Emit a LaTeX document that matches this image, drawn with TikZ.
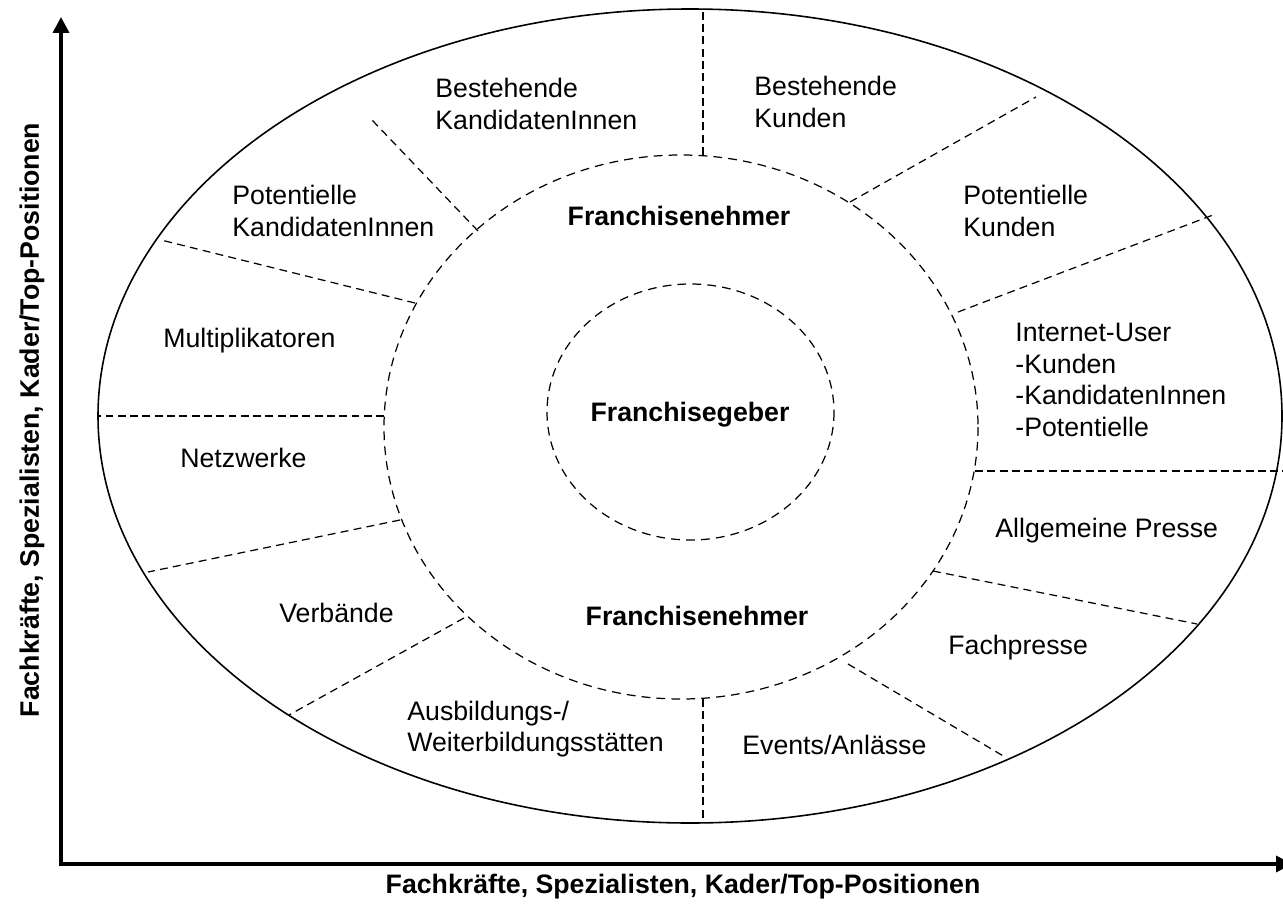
\documentclass[tikz,border=0pt]{standalone}
\usepackage{fontspec}
\setmainfont{Liberation Sans}
\usetikzlibrary{arrows.meta,positioning}

\begin{document}
\begin{tikzpicture}[
  x=0.02cm,
  y=-0.02cm,
  axis/.style={line width=2pt, {Triangle[length=9pt,width=9pt]}-{Triangle[length=9pt,width=9pt]}},
  rim/.style={line width=0.9pt},
  ring/.style={line width=0.7pt, dash pattern=on 5pt off 3.5pt},
  divider/.style={line width=0.7pt, dash pattern=on 4.5pt off 3pt},
  mainline/.style={line width=1.3pt, dash pattern=on 4.5pt off 2.5pt},
  group/.style={inner sep=0pt, anchor=west, align=left, font=\fontsize{15.2}{18}\selectfont},
  core/.style={inner sep=0pt, font=\fontsize{15.2}{18}\selectfont\bfseries},
  axislabel/.style={inner sep=0pt, font=\fontsize{15.2}{18}\selectfont\bfseries}
]
  \useasboundingbox (0,0) rectangle (1283,912);

  \coordinate (origin) at (61,864);
  \coordinate (ytip) at (61,17);
  \coordinate (xtip) at (1292,864);
  \draw[axis] (ytip) -- (origin) -- (xtip);

  \draw[rim] (690,416) ellipse [x radius=592, y radius=407];
  \draw[ring] (681,427) ellipse [x radius=297, y radius=272];
  \draw[ring] (690.5,412) ellipse [x radius=143.5, y radius=128];

  \draw[mainline] (703,155) -- (703,10);
  \draw[mainline] (384,416) -- (97,416);
  \draw[mainline] (703,699) -- (703,822);
  \draw[mainline] (975,471) -- (1283,471);

  \draw[divider] (478,231) -- (372,120);
  \draw[divider] (415,303) -- (161,240);
  \draw[divider] (400,520) -- (148,572);
  \draw[divider] (464,618) -- (289,715);
  \draw[divider] (848,664) -- (1005,757);
  \draw[divider] (933,571) -- (1197,624);
  \draw[divider] (958,312) -- (1213,215);
  \draw[divider] (850,202) -- (1036,97);

  \node[group] (oldcand) at (435,104) {Bestehende\\KandidatenInnen};
  \node[group] (oldcust) at (754,102) {Bestehende\\Kunden};
  \node[group] (newcand) at (232,211) {Potentielle\\KandidatenInnen};
  \node[group] (newcust) at (963,211) {Potentielle\\Kunden};
  \node[group] (multi) at (163,341) {Multiplikatoren};
  \node[group] (web) at (1015,380) {Internet-User\\-Kunden\\-KandidatenInnen\\-Potentielle};
  \node[group] (net) at (180,458) {Netzwerke};
  \node[group] (press) at (995,531) {Allgemeine Presse};
  \node[group] (assoc) at (279,613) {Verbände};
  \node[group] (trade) at (948,648) {Fachpresse};
  \node[group] (school) at (407,729) {Ausbildungs-/\\Weiterbildungsstätten};
  \node[group] (events) at (742,745) {Events/Anlässe};

  \node[core] (takerup) at (679,216) {Franchisenehmer};
  \node[core] (giver) at (690,415) {Franchisegeber};
  \node[core] (takerdown) at (697,616) {Franchisenehmer};

  \node[axislabel, rotate=90] (ylabel) at (32,420) {Fachkräfte, Spezialisten, Kader/Top-Positionen};
  \node[axislabel] (xlabel) at (683,887) {Fachkräfte, Spezialisten, Kader/Top-Positionen};
\end{tikzpicture}
\end{document}
